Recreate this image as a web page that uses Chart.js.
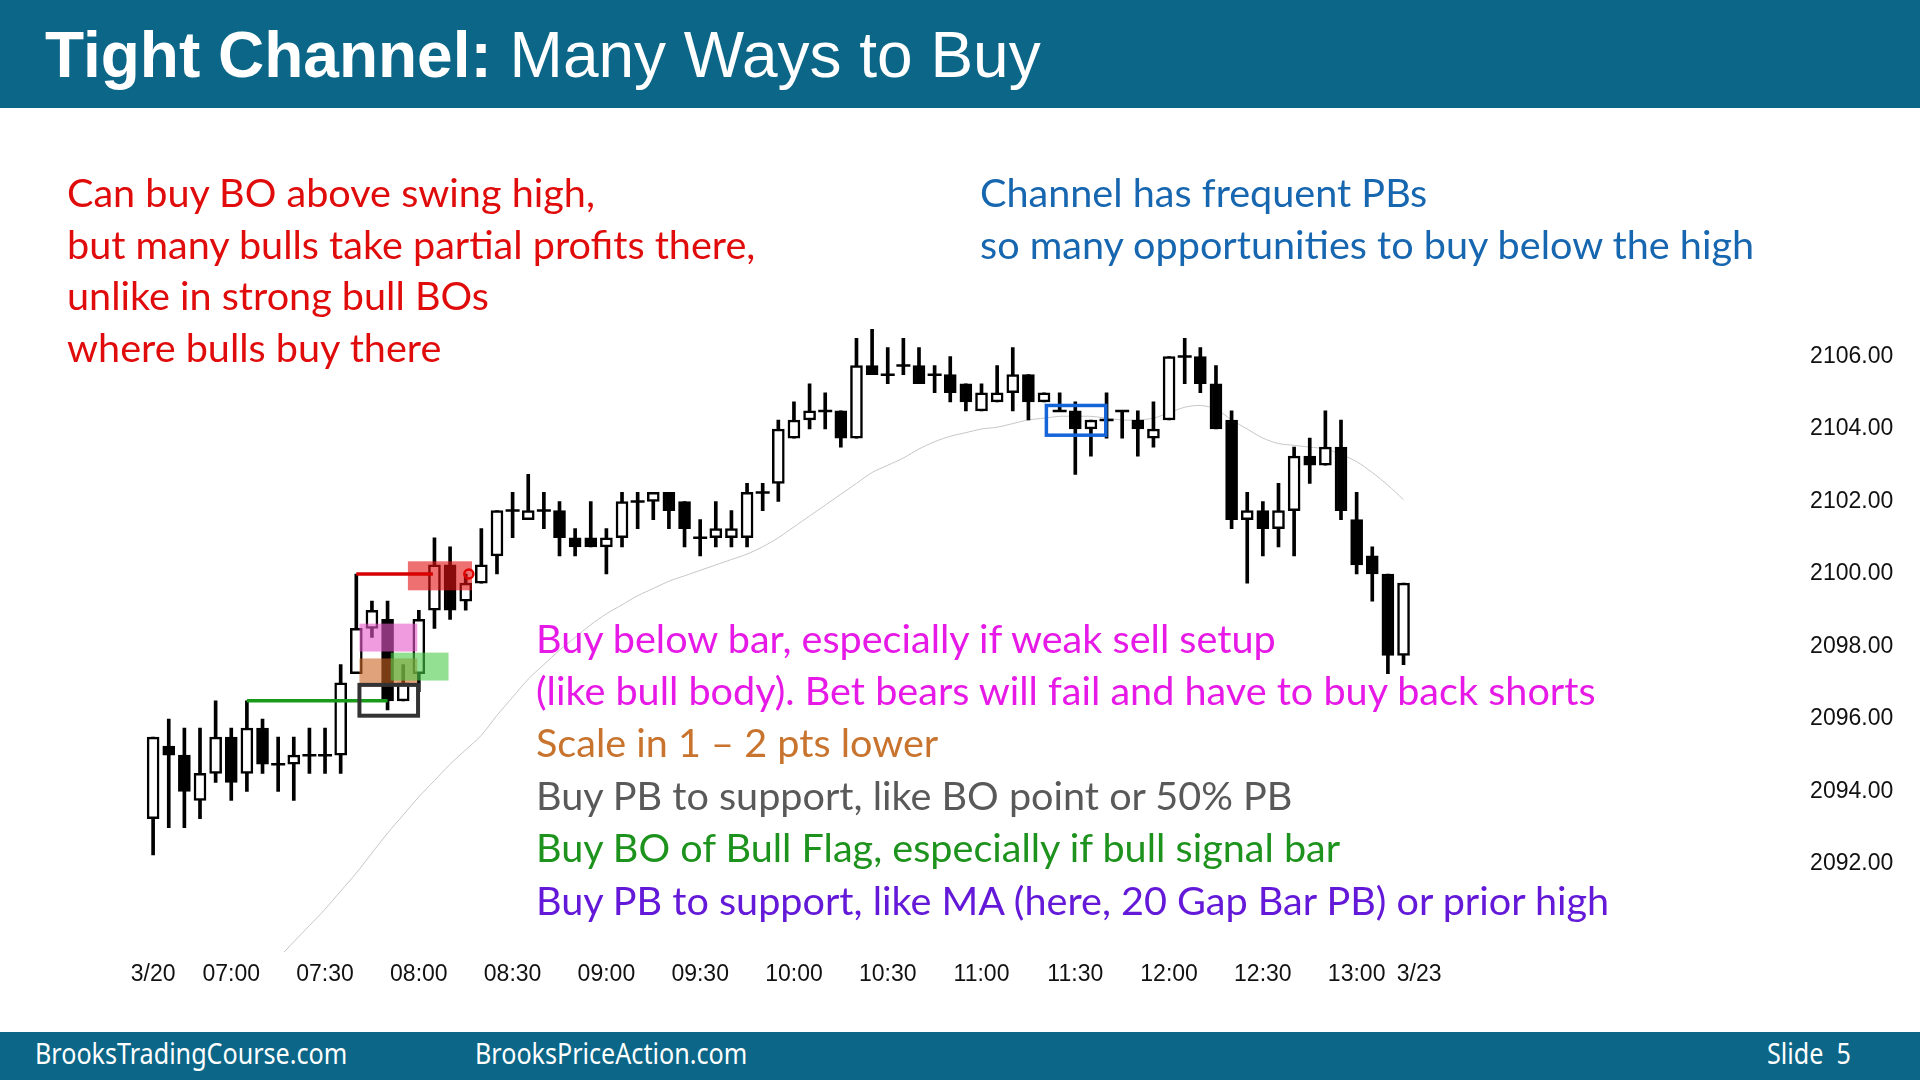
<!DOCTYPE html>
<html>
<head>
<meta charset="utf-8">
<title>Tight Channel: Many Ways to Buy</title>
<script src="https://cdn.jsdelivr.net/npm/chart.js@4.4.1/dist/chart.umd.min.js"></script>
<style>
  html, body { margin: 0; padding: 0; background: #fff; }
  body { width: 1920px; height: 1080px; position: relative; overflow: hidden; }
  #chart { position: absolute; left: 0; top: 0; }
  .band { position: absolute; left: 0; width: 1920px; background: #0b6688; color: #fff; z-index: 2; }
  #header { top: 0; height: 108px; }
  #footer { top: 1032px; height: 48px; }
  .title { position: absolute; left: 45px; top: 23px; font: 64px/64px "Liberation Sans", Arial, sans-serif; white-space: nowrap; }
  .foot { position: absolute; top: 1038px; font: 29px/29px "Noto Sans", sans-serif; color: #fff; transform: scaleX(0.866); transform-origin: left top; white-space: nowrap; z-index: 3; }
  .note { position: absolute; font: 39.6px/39.6px Lato, sans-serif; white-space: nowrap; z-index: 2; }
  .red { color: #e00b0b; }
  .blue { color: #1766b0; }
  .mag { color: #e619e6; }
  .org { color: #c8742e; }
  .gry { color: #595959; }
  .grn { color: #1d931d; }
  .pur { color: #6419d8; }
</style>
</head>
<body>
<div id="header" class="band"><div class="title"><b>Tight Channel:</b> Many Ways to Buy</div></div>
<div id="footer" class="band"></div>
<div class="foot" style="left:35px">BrooksTradingCourse.com</div>
<div class="foot" style="left:475px">BrooksPriceAction.com</div>
<div class="foot" style="left:1767px">Slide&nbsp; 5</div>

<div class="note red" style="left:67px;top:172px">Can buy BO above swing high,</div>
<div class="note red" style="left:67px;top:224px">but many bulls take partial profits there,</div>
<div class="note red" style="left:67px;top:275px">unlike in strong bull BOs</div>
<div class="note red" style="left:67px;top:327px">where bulls buy there</div>

<div class="note blue" style="left:980px;top:172px">Channel has frequent PBs</div>
<div class="note blue" style="left:980px;top:224px">so many opportunities to buy below the high</div>

<div class="note mag" style="left:536px;top:618px">Buy below bar, especially if weak sell setup</div>
<div class="note mag" style="left:536px;top:670px">(like bull body). Bet bears will fail and have to buy back shorts</div>
<div class="note org" style="left:536px;top:722px">Scale in 1 – 2 pts lower</div>
<div class="note gry" style="left:536px;top:775px">Buy PB to support, like BO point or 50% PB</div>
<div class="note grn" style="left:536px;top:827px">Buy BO of Bull Flag, especially if bull signal bar</div>
<div class="note pur" style="left:536px;top:880px">Buy PB to support, like MA (here, 20 Gap Bar PB) or prior high</div>

<canvas id="chart" width="1920" height="1080"></canvas>

<script>
// 5 min bars, 3/20 session, bar 0 = 06:35
const opens = [
  2093.25, 2095.25, 2095.0, 2093.75, 2094.5, 2095.5, 2094.5, 2095.75, 2094.75, 2094.75,
  2095.0, 2095.0, 2095.0, 2097.25, 2098.5, 2098.75, 2096.5, 2097.25, 2099.0, 2100.25,
  2099.25, 2099.75, 2100.5, 2101.75, 2101.5, 2101.75, 2101.75, 2101.0, 2101.0, 2100.75,
  2101.0, 2102.0, 2102.0, 2102.25, 2102.0, 2101.0, 2101.0, 2101.0, 2101.0, 2102.25,
  2102.5, 2103.75, 2104.25, 2104.5, 2104.5, 2103.75, 2105.75, 2105.5, 2105.75, 2105.75,
  2105.5, 2105.5, 2105.25, 2104.5, 2104.75, 2105.0, 2105.5, 2104.75, 2104.5, 2104.5,
  2104.0, 2104.25, 2104.5, 2104.25, 2103.75, 2104.25, 2106.0, 2106.0, 2105.25, 2104.25,
  2101.5, 2101.75, 2101.25, 2101.75, 2103.25, 2103.0, 2103.5, 2101.5, 2100.5, 2100.0,
  2097.75
];
const highs = [
  2095.5, 2096.0, 2095.75, 2095.75, 2096.5, 2095.75, 2096.5, 2096.0, 2095.5, 2095.5,
  2095.75, 2095.75, 2097.5, 2100.0, 2099.25, 2099.25, 2097.5, 2099.0, 2101.0, 2100.75,
  2100.0, 2101.25, 2101.75, 2102.25, 2102.75, 2102.25, 2102.0, 2101.25, 2102.0, 2101.25,
  2102.25, 2102.25, 2102.25, 2102.25, 2102.0, 2101.5, 2102.0, 2101.75, 2102.5, 2102.5,
  2104.25, 2104.75, 2105.25, 2105.0, 2104.5, 2106.5, 2106.75, 2106.25, 2106.5, 2106.25,
  2105.75, 2106.0, 2105.25, 2105.25, 2105.75, 2106.25, 2105.5, 2105.0, 2105.0, 2104.75,
  2104.25, 2105.0, 2104.5, 2104.5, 2104.75, 2106.0, 2106.5, 2106.25, 2105.75, 2104.5,
  2102.25, 2102.0, 2102.5, 2103.5, 2103.75, 2104.5, 2104.25, 2102.25, 2100.75, 2100.0,
  2099.75
];
const lows = [
  2092.25, 2093.0, 2093.0, 2093.25, 2094.25, 2093.75, 2094.0, 2094.5, 2094.0, 2093.75,
  2094.5, 2094.5, 2094.5, 2097.25, 2098.25, 2096.25, 2096.5, 2096.75, 2098.5, 2098.75,
  2099.0, 2099.75, 2100.0, 2101.0, 2101.5, 2101.25, 2100.5, 2100.5, 2100.75, 2100.0,
  2100.75, 2101.25, 2101.5, 2101.25, 2100.75, 2100.5, 2100.75, 2100.75, 2100.75, 2101.75,
  2102.0, 2103.75, 2104.0, 2104.0, 2103.5, 2103.75, 2105.5, 2105.25, 2105.5, 2105.25,
  2105.0, 2104.75, 2104.5, 2104.5, 2104.75, 2104.5, 2104.25, 2104.75, 2104.5, 2102.75,
  2103.25, 2103.75, 2103.75, 2103.25, 2103.5, 2104.25, 2105.25, 2105.0, 2104.0, 2101.25,
  2099.75, 2100.5, 2100.75, 2100.5, 2102.5, 2103.0, 2101.5, 2100.0, 2099.25, 2097.25,
  2097.5
];
const closes = [
  2095.5, 2095.0, 2094.0, 2094.5, 2095.5, 2094.25, 2095.75, 2094.75, 2094.75, 2095.0,
  2095.0, 2095.0, 2097.0, 2098.5, 2099.0, 2096.5, 2097.0, 2098.75, 2100.25, 2099.0,
  2099.75, 2100.25, 2101.75, 2101.75, 2101.75, 2101.75, 2101.0, 2100.75, 2100.75, 2101.0,
  2102.0, 2102.0, 2102.25, 2101.75, 2101.25, 2101.0, 2101.25, 2101.25, 2102.25, 2102.25,
  2104.0, 2104.25, 2104.5, 2104.5, 2103.75, 2105.75, 2105.5, 2105.5, 2105.75, 2105.25,
  2105.5, 2105.0, 2104.75, 2105.0, 2105.0, 2105.5, 2104.75, 2105.0, 2104.5, 2104.0,
  2104.25, 2104.25, 2104.5, 2104.0, 2104.0, 2106.0, 2106.0, 2105.25, 2104.0, 2101.5,
  2101.75, 2101.25, 2101.75, 2103.25, 2103.0, 2103.5, 2101.75, 2100.25, 2100.0, 2097.75,
  2099.75
];
// 20 bar EMA as drawn (grey line), starts below the visible range
const ema20 = [
  null, null, null, null, null, null, null, 2089.0, 2089.4, 2089.85,
  2090.3, 2090.75, 2091.25, 2091.75, 2092.3, 2092.85, 2093.35, 2093.85, 2094.3, 2094.75,
  2095.15, 2095.55, 2096.1, 2096.6, 2097.1, 2097.5, 2097.9, 2098.25, 2098.6, 2098.9,
  2099.15, 2099.4, 2099.6, 2099.8, 2099.95, 2100.1, 2100.25, 2100.4, 2100.55, 2100.75,
  2101.0, 2101.3, 2101.6, 2101.9, 2102.2, 2102.5, 2102.8, 2103.0, 2103.2, 2103.45,
  2103.65, 2103.8, 2103.9, 2104.0, 2104.05, 2104.15, 2104.25, 2104.3, 2104.35, 2104.35,
  2104.35, 2104.3, 2104.25, 2104.25, 2104.3, 2104.45, 2104.6, 2104.65, 2104.55, 2104.25,
  2104.0, 2103.75, 2103.6, 2103.55, 2103.5, 2103.45, 2103.3, 2103.1, 2102.8, 2102.45,
  2102.05
];
const tickIndex = [0, 5, 11, 17, 23, 29, 35, 41, 47, 53, 59, 65, 71, 77, 81];
const tickText = ['3/20', '07:00', '07:30', '08:00', '08:30', '09:00', '09:30', '10:00',
  '10:30', '11:00', '11:30', '12:00', '12:30', '13:00', '3/23'];
const priceTicks = [2092, 2094, 2096, 2098, 2100, 2102, 2104, 2106];
const slotCount = 106;

// highlight boxes and lines drawn on the chart (bar index / price)
const zones = [
  { from: 16.3, to: 20.4, top: 2100.35, bottom: 2099.55, color: 'rgba(227,17,17,0.6)' },
  { from: 13.2, to: 16.9, top: 2098.63, bottom: 2097.86, color: 'rgba(230,87,203,0.6)' },
  { from: 13.2, to: 16.9, top: 2097.67, bottom: 2096.99, color: 'rgba(203,100,33,0.6)' },
  { from: 15.2, to: 18.9, top: 2097.83, bottom: 2097.06, color: 'rgba(75,203,75,0.6)' }
];
const frames = [
  { from: 13.2, to: 16.95, top: 2096.94, bottom: 2096.09, color: '#333333', width: 4 },
  { from: 57.15, to: 60.95, top: 2104.65, bottom: 2103.83, color: '#1565d8', width: 3.5 }
];
const levels = [
  { from: 13.0, to: 17.9, price: 2100.0, color: '#d60000' },
  { from: 6.0, to: 15.0, price: 2096.5, color: '#1a9a1a' }
];
const marker = { bar: 20.2, price: 2100.0 };

const labels = Array.from({ length: slotCount }, (_, i) => {
  const k = tickIndex.indexOf(i);
  return k >= 0 ? tickText[k] : '';
});
const wicks = lows.map((l, i) => [l, highs[i]]);
const bodies = opens.map((o, i) => o === closes[i] ? null : [o, closes[i]]);
const bodyColors = opens.map((o, i) => closes[i] > o ? '#ffffff' : '#000000');
const dojis = opens.map((o, i) => o === closes[i] ? o : null);

const overlayPlugin = {
  id: 'overlays',
  afterDatasetsDraw(chart) {
    const { ctx, scales: { x, y } } = chart;
    ctx.save();
    zones.forEach(z => {
      const x0 = x.getPixelForValue(z.from), x1 = x.getPixelForValue(z.to);
      const y0 = y.getPixelForValue(z.top), y1 = y.getPixelForValue(z.bottom);
      ctx.fillStyle = z.color;
      ctx.fillRect(x0, y0, x1 - x0, y1 - y0);
    });
    levels.forEach(l => {
      const yy = y.getPixelForValue(l.price);
      ctx.strokeStyle = l.color;
      ctx.lineWidth = 3.5;
      ctx.beginPath();
      ctx.moveTo(x.getPixelForValue(l.from), yy);
      ctx.lineTo(x.getPixelForValue(l.to), yy);
      ctx.stroke();
    });
    frames.forEach(f => {
      const x0 = x.getPixelForValue(f.from), x1 = x.getPixelForValue(f.to);
      const y0 = y.getPixelForValue(f.top), y1 = y.getPixelForValue(f.bottom);
      ctx.strokeStyle = f.color;
      ctx.lineWidth = f.width;
      ctx.strokeRect(x0, y0, x1 - x0, y1 - y0);
    });
    ctx.strokeStyle = '#e00000';
    ctx.lineWidth = 2.5;
    ctx.beginPath();
    ctx.arc(x.getPixelForValue(marker.bar), y.getPixelForValue(marker.price), 4.5, 0, Math.PI * 2);
    ctx.stroke();
    ctx.restore();
  }
};

new Chart(document.getElementById('chart'), {
  data: {
    labels: labels,
    datasets: [
      { type: 'line', data: ema20, borderColor: '#c6c6c6', borderWidth: 1, pointRadius: 0, tension: 0.3, order: 4 },
      { type: 'bar', data: wicks, backgroundColor: '#000', barThickness: 3, grouped: false, order: 3 },
      { type: 'bar', data: bodies, backgroundColor: bodyColors, borderColor: '#000', borderWidth: 2.5,
        borderSkipped: false, barThickness: 12, grouped: false, order: 2 },
      { type: 'line', data: dojis, showLine: false, pointStyle: 'line', pointRadius: 7,
        borderColor: '#000', pointBorderWidth: 2.5, order: 1 }
    ]
  },
  options: {
    responsive: false,
    devicePixelRatio: 1,
    animation: false,
    events: [],
    layout: { padding: { left: 145.3, top: 300, right: 0, bottom: 0 } },
    plugins: { legend: { display: false }, tooltip: { enabled: false } },
    scales: {
      x: {
        type: 'category',
        offset: true,
        grid: { display: false, drawTicks: false },
        border: { display: false },
        ticks: { autoSkip: false, maxRotation: 0, padding: 9, color: '#111',
          font: { family: 'Liberation Sans', size: 23 } },
        afterFit(scale) { scale.height = 128; }
      },
      y: {
        position: 'right',
        min: 2089.57,
        max: 2107.56,
        grid: { display: false, drawTicks: false },
        border: { display: false },
        afterBuildTicks(scale) { scale.ticks = priceTicks.map(v => ({ value: v })); },
        ticks: { padding: 8, color: '#111', font: { family: 'Liberation Sans', size: 23 },
          callback: v => Number(v).toFixed(2) },
        afterFit(scale) { scale.width = 117.9; }
      }
    }
  },
  plugins: [overlayPlugin]
});
</script>
</body>
</html>
